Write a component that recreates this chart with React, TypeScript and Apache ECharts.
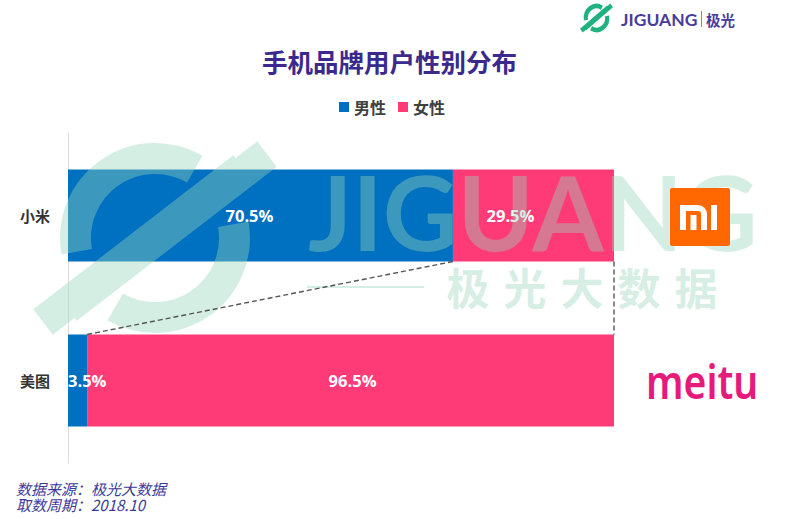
import React, { useEffect, useRef } from 'react';
import * as echarts from 'echarts';

const categories = ['小米', '美图'];
const maleValues = [70.5, 3.5];
const femaleValues = [29.5, 96.5];
const seriesNames = ['男性', '女性'];
const titleText = '手机品牌用户性别分布';
const sourceLines = ['数据来源：极光大数据', '取数周期：2018.10'];
const watermarkWord = 'JIGUANG';
const watermarkChars = ['极', '光', '大', '数', '据'];

const BLUE = '#0070c0';
const PINK = '#ff3b77';
const CJK = '"Noto Sans CJK SC", sans-serif';
const NUM = '"Open Sans", "Noto Sans CJK SC", sans-serif';
const BAR_W = 92;

// logo mark path (centered at 0,0)
function sectorPath(rIn: number, rOut: number, a0: number, a1: number) {
  const d = Math.PI / 180;
  const p = (r: number, a: number) => `${(r * Math.cos(a * d)).toFixed(2)} ${(r * Math.sin(a * d)).toFixed(2)}`;
  const large = a1 - a0 > 180 ? 1 : 0;
  return `M ${p(rOut, a0)} A ${rOut} ${rOut} 0 ${large} 1 ${p(rOut, a1)} L ${p(rIn, a1)} A ${rIn} ${rIn} 0 ${large} 0 ${p(rIn, a0)} Z `;
}
function bandPath(x1: number, y1: number, x2: number, y2: number, hw: number) {
  const len = Math.hypot(x2 - x1, y2 - y1);
  const nx = -(y2 - y1) / len * hw;
  const ny = (x2 - x1) / len * hw;
  let pts = [[x1 + nx, y1 + ny], [x2 + nx, y2 + ny], [x2 - nx, y2 - ny], [x1 - nx, y1 - ny]];
  let area = 0;
  for (let i = 0; i < 4; i++) {
    const a = pts[i], b = pts[(i + 1) % 4];
    area += a[0] * b[1] - b[0] * a[1];
  }
  if (area < 0) pts = pts.reverse();
  return 'M ' + pts.map(q => `${q[0].toFixed(2)} ${q[1].toFixed(2)}`).join(' L ') + ' Z ';
}
const logoD =
  sectorPath(64, 95, 170, 300) +
  sectorPath(64, 95, -10, 120) +
  bandPath(-112, 84, 88, -70, 16) +
  bandPath(-88, 70, 112, -84, 16);

echarts.graphic.registerShape('jgLogo', echarts.graphic.extendPath(logoD, {}) as any);

export default function App() {
  const ref = useRef<HTMLDivElement>(null);
  useEffect(() => {
    const chart = echarts.init(ref.current as HTMLDivElement, null, { renderer: 'svg' });
    const maleLabelStyles = [
      { offset: [-11, 0] },
      { position: 'insideLeft', distance: 0 },
    ];
    const femaleLabelStyles = [
      { offset: [-23, 0] },
      { offset: [2, 0] },
    ];
    const labelBase = {
      show: true,
      position: 'inside',
      formatter: '{c}%',
      color: '#fff',
      fontSize: 16.5,
      fontWeight: 'bold',
      fontFamily: NUM,
    };
    chart.setOption({
      animation: false,
      backgroundColor: '#fff',
      title: {
        text: titleText,
        left: 257,
        top: 43,
        textStyle: { fontSize: 25.5, fontWeight: 'bold', color: '#3b2a8c', fontFamily: CJK },
      },
      legend: {
        data: seriesNames,
        left: 334,
        top: 94,
        icon: 'rect',
        itemWidth: 10,
        itemHeight: 10,
        itemGap: 12,
        textStyle: { fontSize: 16, fontWeight: 'bold', color: '#404040', fontFamily: CJK },
      },
      grid: { left: 68, right: 186, top: 133, bottom: 56, containLabel: false },
      xAxis: { type: 'value', min: 0, max: 100, show: false },
      yAxis: {
        type: 'category',
        data: categories,
        inverse: true,
        axisLine: { show: true, lineStyle: { color: '#dcdcdc', width: 1 } },
        axisTick: { show: false },
        axisLabel: { fontSize: 15, fontWeight: 'bold', color: '#333', fontFamily: CJK, margin: 18 },
      },
      series: [
        {
          name: seriesNames[0],
          type: 'bar',
          stack: 'g',
          barWidth: BAR_W,
          itemStyle: { color: BLUE },
          label: labelBase,
          data: maleValues.map((v, i) => ({ value: v, label: maleLabelStyles[i] })),
        },
        {
          name: seriesNames[1],
          type: 'bar',
          stack: 'g',
          barWidth: BAR_W,
          itemStyle: { color: PINK },
          label: labelBase,
          data: femaleValues.map((v, i) => ({ value: v, label: femaleLabelStyles[i] })),
        },
      ],
    });

    const px = (v: number, i: number) => chart.convertToPixel({ gridIndex: 0 }, [v, i]) as number[];
    const half = BAR_W / 2;
    const a = px(maleValues[0], 0);
    const b = px(maleValues[1], 1);
    const c1 = px(maleValues[0] + femaleValues[0], 0);
    const c2 = px(maleValues[1] + femaleValues[1], 1);

    const wmColor = 'rgba(150, 212, 186, 0.40)';
    const graphics: any[] = [];
    // watermark
    graphics.push({
      type: 'jgLogo', x: 155, y: 238, scaleX: 1, scaleY: 1, z: 10, silent: true,
      style: { fill: wmColor },
    });
    graphics.push({
      type: 'text', x: 308, y: 211, z: 10, silent: true,
      style: { text: watermarkWord, font: 'bold 103px Lato', fill: wmColor, align: 'left', verticalAlign: 'middle' },
    });
    graphics.push({
      type: 'line', z: 10, silent: true,
      shape: { x1: 307, y1: 287, x2: 424, y2: 287 },
      style: { stroke: wmColor, lineWidth: 2 },
    });
    watermarkChars.forEach((ch, i) => {
      graphics.push({
        type: 'text', x: 468 + i * 57, y: 286, z: 10, silent: true,
        style: { text: ch, font: 'bold 43px "Noto Sans CJK SC"', fill: wmColor, align: 'center', verticalAlign: 'middle' },
      });
    });
    // dashed connectors
    graphics.push({
      type: 'line', z: 20, silent: true,
      shape: { x1: a[0], y1: a[1] + half, x2: b[0], y2: b[1] - half },
      style: { stroke: '#555', lineWidth: 1.4, lineDash: [5, 3] },
    });
    graphics.push({
      type: 'line', z: 20, silent: true,
      shape: { x1: c1[0], y1: c1[1] + half, x2: c2[0], y2: c2[1] - half },
      style: { stroke: '#555', lineWidth: 1.4, lineDash: [5, 3] },
    });
    // Mi logo
    graphics.push({
      type: 'group', z: 20, silent: true,
      children: [
        { type: 'rect', z: 20, shape: { x: 670, y: 188, width: 60, height: 58, r: 2 }, style: { fill: '#ff6700' } },
        { type: 'rect', z: 21, shape: { x: 680, y: 205, width: 27, height: 25, r: [0, 9, 0, 0] }, style: { fill: '#fff' } },
        { type: 'rect', z: 22, shape: { x: 686, y: 211, width: 15, height: 19, r: [0, 3, 0, 0] }, style: { fill: '#ff6700' } },
        { type: 'rect', z: 23, shape: { x: 690.5, y: 215, width: 6, height: 15 }, style: { fill: '#fff' } },
        { type: 'rect', z: 23, shape: { x: 711, y: 205, width: 6, height: 25 }, style: { fill: '#fff' } },
      ],
    });
    // meitu logo
    graphics.push({
      type: 'text', x: 646, y: 381, z: 20, scaleX: 0.85, silent: true,
      style: { text: 'meitu', font: '600 46px "Noto Sans"', fill: '#e8197d', align: 'left', verticalAlign: 'middle' },
    });
    // top-right brand
    graphics.push({
      type: 'jgLogo', x: 596.5, y: 18, scaleX: 0.135, scaleY: 0.15, z: 20, silent: true,
      style: { fill: '#1fb27f' },
    });
    graphics.push({
      type: 'text', x: 621, y: 19, z: 20, silent: true,
      style: { text: 'JIGUANG', font: 'bold 17.5px Lato', fill: '#4a3c9c', align: 'left', verticalAlign: 'middle' },
    });
    graphics.push({
      type: 'line', z: 20, silent: true,
      shape: { x1: 701.5, y1: 11, x2: 701.5, y2: 27 },
      style: { stroke: '#8a86b8', lineWidth: 1 },
    });
    graphics.push({
      type: 'text', x: 706, y: 19, z: 20, silent: true,
      style: { text: '极光', font: 'bold 14.5px "Noto Sans CJK SC"', fill: '#4a3c9c', align: 'left', verticalAlign: 'middle' },
    });
    // source notes
    sourceLines.forEach((t, i) => {
      graphics.push({
        type: 'text', x: 16, y: 488 + i * 16.5, z: 20, silent: true,
        style: { text: t, font: 'italic 15px "Noto Sans CJK SC"', fill: '#3d3a9a', align: 'left', verticalAlign: 'middle' },
      });
    });

    chart.setOption({ graphic: graphics });
    return () => chart.dispose();
  }, []);
  return <div ref={ref} style={{ position: 'fixed', left: 0, top: 0, width: 800, height: 519 }} />;
}
